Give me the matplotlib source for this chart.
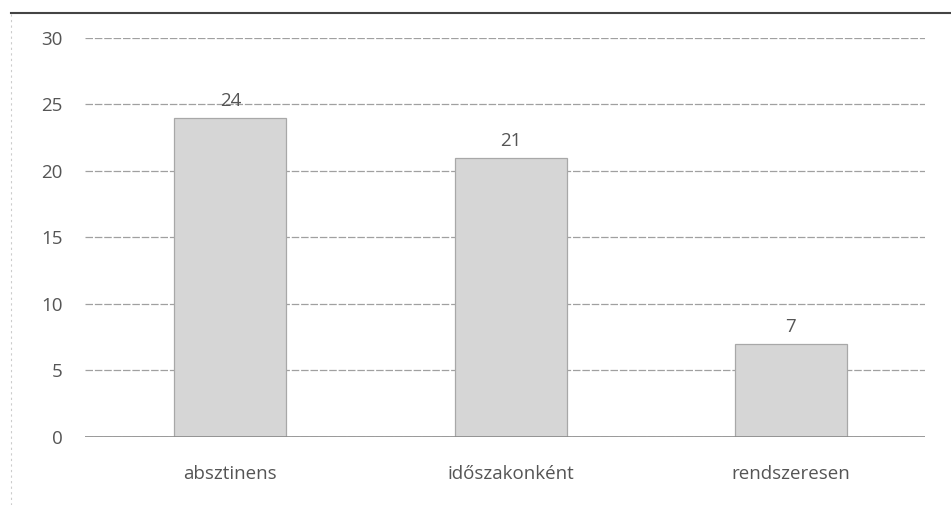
import matplotlib.pyplot as plt
from matplotlib.lines import Line2D

categories = ['absztinens', 'időszakonként', 'rendszeresen']
values = [24, 21, 7]
yticks = [0, 5, 10, 15, 20, 25, 30]

plt.rcParams['font.family'] = ['Open Sans', 'DejaVu Sans']

fig = plt.figure(figsize=(9.51, 5.05), dpi=100)
ax = fig.add_axes([0.089, 0.135, 0.884, 0.79])

bars = ax.bar(range(len(categories)), values, width=0.4, color='#d6d6d6',
              edgecolor='#a8a8a8', linewidth=0.9, zorder=3)
for b, v in zip(bars, values):
    ax.text(b.get_x() + b.get_width() / 2, v + 0.6, str(v), ha='center',
            va='bottom', fontsize=13.5, color='#555555')

ax.set_xlim(-0.52, 2.48)
ax.set_ylim(0, 30)
ax.set_yticks(yticks)
ax.set_xticks(range(len(categories)))
ax.set_xticklabels(categories)
ax.yaxis.grid(True, color='#a0a0a0', linewidth=0.9, linestyle=(0, (6, 1.5)), zorder=0)
ax.tick_params(axis='both', length=0, labelsize=13.5, colors='#555555')
ax.tick_params(axis='x', pad=20)
ax.tick_params(axis='y', pad=16)
for s in ax.spines.values():
    s.set_visible(False)
ax.axhline(0, color='#8a8a8a', linewidth=1.2, zorder=4)

# top border of the scanned frame
fig.add_artist(Line2D([0.012, 1.0], [0.975, 0.975], color='#444444', linewidth=1.5))
fig.add_artist(Line2D([0.012, 0.012], [0.0, 0.975], color='#cccccc', linewidth=0.8,
                      linestyle=(0, (2, 3))))

fig.savefig('out.png', dpi=100)
